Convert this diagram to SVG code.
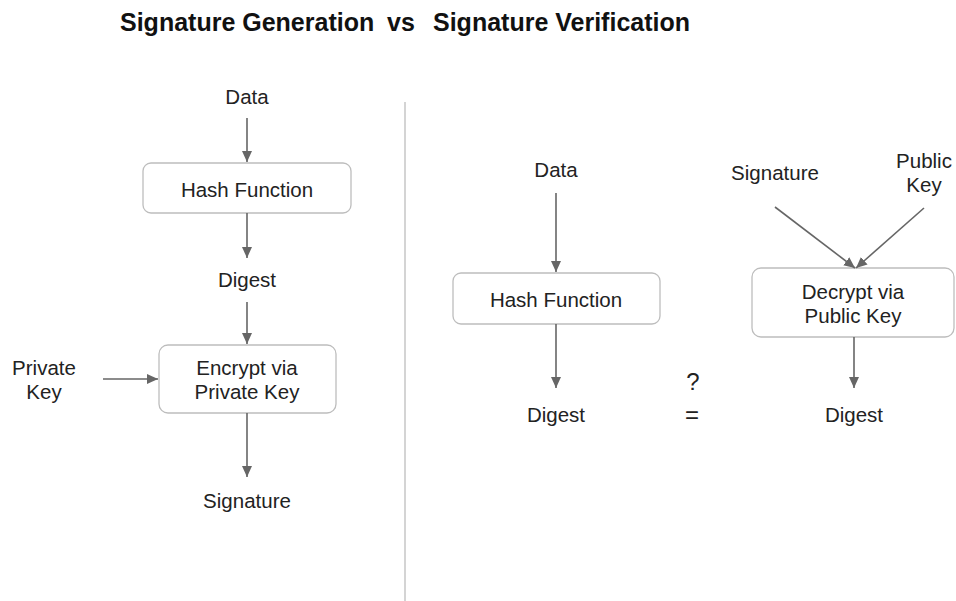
<svg xmlns="http://www.w3.org/2000/svg" width="956" height="601" viewBox="0 0 956 601">
  <style>
    .title { font-family: "Liberation Sans", Arial, sans-serif; font-size: 25px; font-weight: bold; fill: #111; }
    .lbl { font-family: "Liberation Sans", Arial, sans-serif; font-size: 20.5px; fill: #222; text-anchor: middle; }
    .sym { font-family: "Liberation Sans", Arial, sans-serif; font-size: 24px; fill: #222; text-anchor: middle; }
    .box { fill: #fff; stroke: #bdbdbd; stroke-width: 1.3; }
    .edge { stroke: #666; stroke-width: 1.6; fill: none; marker-end: url(#head); }
    .divider { stroke: #d4d4d4; stroke-width: 2; }
  </style>
  <defs>
    <marker id="head" markerUnits="userSpaceOnUse" markerWidth="12" markerHeight="12" viewBox="0 0 12 12" refX="11" refY="6" orient="auto">
      <path d="M0,1 L11,6 L0,11 Z" fill="#666"/>
    </marker>
  </defs>
  <rect width="956" height="601" fill="#fff"/>

  <!-- heading -->
  <g id="title">
    <text class="title" x="120" y="31">Signature Generation</text>
    <text class="title" x="387" y="31">vs</text>
    <text class="title" x="433" y="31">Signature Verification</text>
  </g>

  <line class="divider" x1="405" y1="102" x2="405" y2="601"/>

  <!-- generation side -->
  <g id="gen-data"><text class="lbl" x="247" y="104">Data</text></g>
  <g id="gen-hash">
    <rect class="box" x="143" y="163" width="208" height="50" rx="8"/>
    <text class="lbl" x="247" y="197">Hash Function</text>
  </g>
  <g id="gen-digest"><text class="lbl" x="247" y="287">Digest</text></g>
  <g id="gen-private-key">
    <text class="lbl" x="44" y="375">Private</text>
    <text class="lbl" x="44" y="399">Key</text>
  </g>
  <g id="gen-encrypt">
    <rect class="box" x="159" y="345" width="177" height="68" rx="9"/>
    <text class="lbl" x="247" y="375">Encrypt via</text>
    <text class="lbl" x="247" y="399">Private Key</text>
  </g>
  <g id="gen-signature"><text class="lbl" x="247" y="508">Signature</text></g>

  <!-- verification side -->
  <g id="ver-data"><text class="lbl" x="556" y="177">Data</text></g>
  <g id="ver-hash">
    <rect class="box" x="453" y="273" width="207" height="51" rx="8"/>
    <text class="lbl" x="556" y="307">Hash Function</text>
  </g>
  <g id="ver-digest-a"><text class="lbl" x="556" y="422">Digest</text></g>
  <g id="ver-compare">
    <text class="sym" x="693" y="390">?</text>
    <text class="sym" x="692" y="423">=</text>
  </g>
  <g id="ver-signature"><text class="lbl" x="775" y="180">Signature</text></g>
  <g id="ver-public-key">
    <text class="lbl" x="924" y="168">Public</text>
    <text class="lbl" x="924" y="192">Key</text>
  </g>
  <g id="ver-decrypt">
    <rect class="box" x="752" y="268" width="202" height="69" rx="9"/>
    <text class="lbl" x="853" y="299">Decrypt via</text>
    <text class="lbl" x="853" y="323">Public Key</text>
  </g>
  <g id="ver-digest-b"><text class="lbl" x="854" y="422">Digest</text></g>

  <!-- connectors -->
  <g id="connectors">
    <line class="edge" x1="247" y1="118" x2="247" y2="162"/>
    <line class="edge" x1="247" y1="213" x2="247" y2="258"/>
    <line class="edge" x1="247" y1="302" x2="247" y2="344"/>
    <line class="edge" x1="103" y1="379" x2="158" y2="379"/>
    <line class="edge" x1="247" y1="413" x2="247" y2="477"/>
    <line class="edge" x1="556" y1="193" x2="556" y2="272"/>
    <line class="edge" x1="556" y1="324" x2="556" y2="388"/>
    <line class="edge" x1="775" y1="207" x2="855" y2="268"/>
    <line class="edge" x1="924" y1="208" x2="856" y2="268"/>
    <line class="edge" x1="854" y1="337" x2="854" y2="388"/>
  </g>
</svg>
